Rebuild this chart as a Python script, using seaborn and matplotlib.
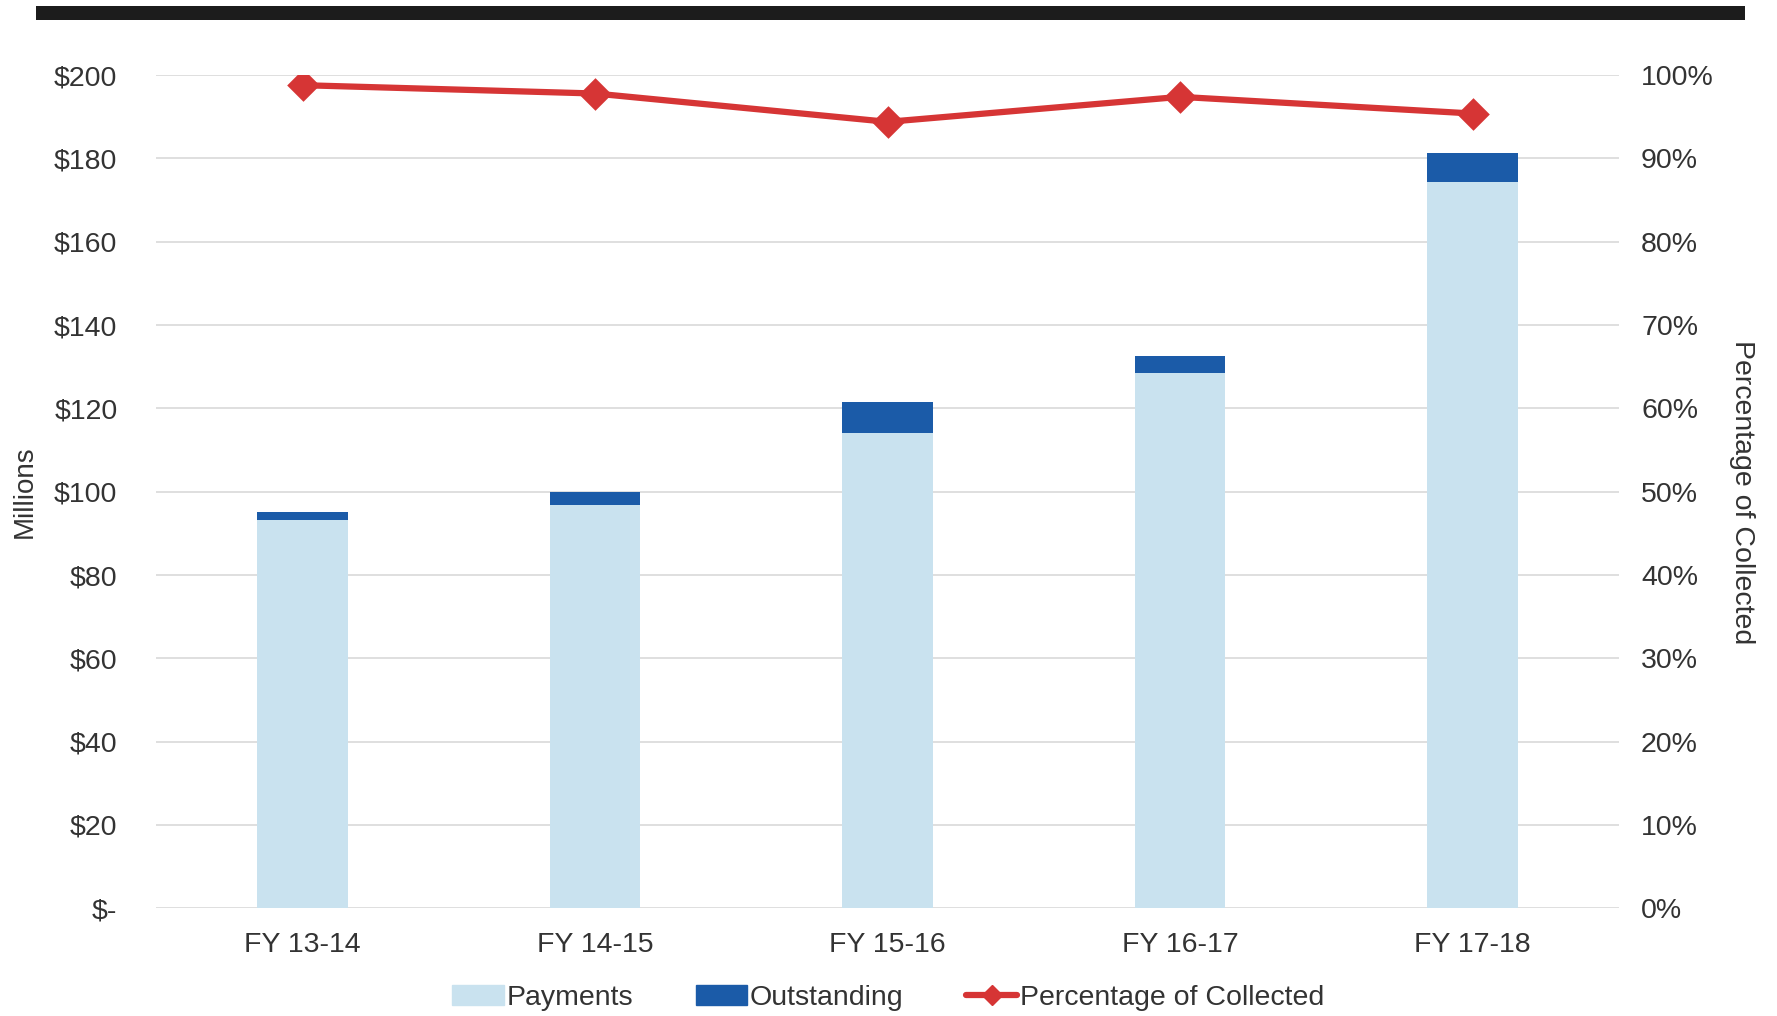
import pandas as pd
import seaborn as sns
import matplotlib.pyplot as plt
from matplotlib.patches import Patch
from matplotlib.lines import Line2D
from matplotlib.ticker import FuncFormatter

years = ["FY 13-14", "FY 14-15", "FY 15-16", "FY 16-17", "FY 17-18"]
payments = [93.3, 96.9, 114.0, 128.4, 174.4]
outstanding = [1.9, 3.0, 7.6, 4.1, 6.8]
pct_collected = [98.8, 97.8, 94.4, 97.4, 95.4]

df = pd.DataFrame({"Year": years, "Payments": payments, "Outstanding": outstanding,
                   "Pct": pct_collected})
df["Total"] = df["Payments"] + df["Outstanding"]

sns.set_theme(style="white")
plt.rcParams['font.family'] = ['Liberation Sans', 'DejaVu Sans']

c_pay = "#c9e2ef"
c_out = "#1b5ba8"
c_line = "#d63535"

fig = plt.figure(figsize=(17.77, 10.16), dpi=100)
ax = fig.add_axes([0.088, 0.106, 0.823, 0.820])

sns.barplot(data=df, x="Year", y="Total", color=c_out, width=0.31, saturation=1,
            linewidth=0, ax=ax)
sns.barplot(data=df, x="Year", y="Payments", color=c_pay, width=0.31, saturation=1,
            linewidth=0, ax=ax)

ax.set_ylim(0, 200)
ax.set_xlim(-0.5, 4.5)
ax.set_yticks(range(0, 201, 20))
ax.yaxis.set_major_formatter(FuncFormatter(lambda v, p: "$-" if v == 0 else f"${v:.0f}"))
ax.grid(axis="y", color="#d9d9d9", lw=1.2)
ax.set_axisbelow(True)
for s in ax.spines.values():
    s.set_visible(False)
ax.tick_params(axis="both", length=0, labelsize=20.5, colors="#333333", pad=17)
ax.tick_params(axis="y", pad=28)
ax.set_xlabel("")
ax.set_ylabel("Millions", fontsize=20, color="#333333", labelpad=12)

ax2 = ax.twinx()
sns.pointplot(data=df, x="Year", y="Pct", color=c_line, markers="D", linestyles="-",
              markersize=13, linewidth=4.5, ax=ax2)
ax2.set_ylim(0, 100)
ax2.set_xlim(-0.5, 4.5)
ax2.set_yticks(range(0, 101, 10))
ax2.yaxis.set_major_formatter(FuncFormatter(lambda v, p: f"{v:.0f}%"))
for s in ax2.spines.values():
    s.set_visible(False)
ax2.tick_params(axis="y", length=0, labelsize=20.5, colors="#333333", pad=16)
ax2.set_ylabel("Percentage of Collected", fontsize=20.5, color="#333333",
               rotation=270, labelpad=30)
ax2.set_xlabel("")

# dark band at top
fig.add_artist(plt.Rectangle((0.020, 0.980), 0.962, 0.014, transform=fig.transFigure,
                             color="#1c1c1c", lw=0))

handles = [Patch(color=c_pay), Patch(color=c_out),
           Line2D([], [], color=c_line, lw=4.5, marker="D", markersize=10)]
labels = ["Payments", "Outstanding", "Percentage of Collected"]
fig.legend(handles, labels, loc="center", bbox_to_anchor=(0.5, 0.018), ncol=3,
           frameon=False, fontsize=20.5, handlelength=1.8, handletextpad=0.1,
           columnspacing=2.2, labelcolor="#333333")

plt.savefig("out.png", dpi=100)
plt.close()
